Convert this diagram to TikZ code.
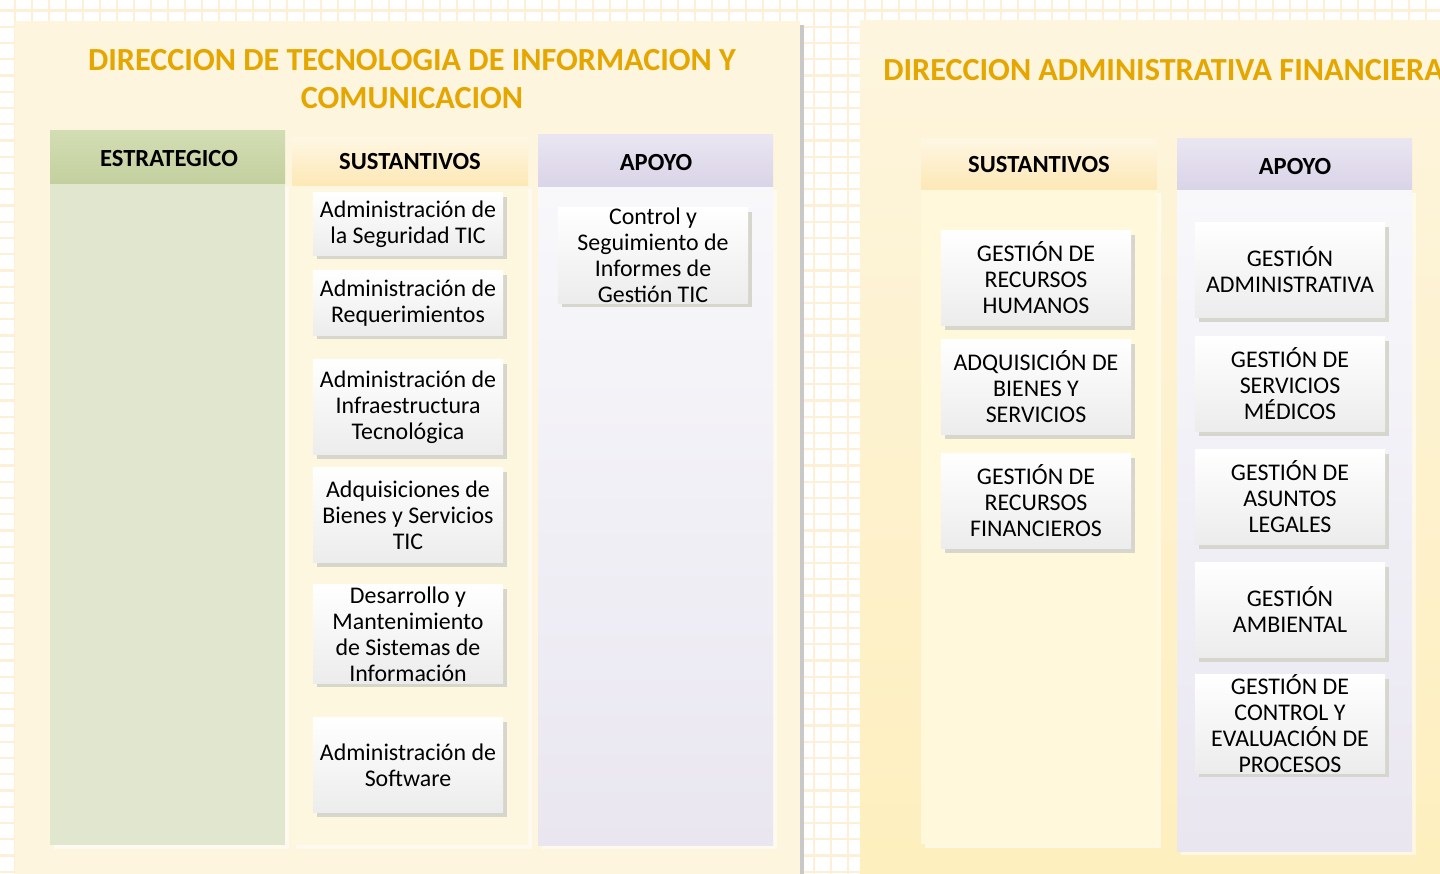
\documentclass[tikz,border=0pt]{standalone}
\usepackage{fontspec}
\setmainfont{Carlito}
\usetikzlibrary{shadows}

\definecolor{gridcol}{RGB}{254,240,214}
\definecolor{panelbg}{RGB}{253,245,222}
\definecolor{panelbot}{RGB}{254,239,190}
\definecolor{edgegray}{RGB}{200,200,200}
\definecolor{titlegold}{RGB}{230,166,0}
\definecolor{greentop}{RGB}{211,221,180}
\definecolor{greenbot}{RGB}{195,208,158}
\definecolor{greenbody}{RGB}{225,230,207}
\definecolor{sandtop}{RGB}{254,247,228}
\definecolor{sandbot}{RGB}{253,232,182}
\definecolor{sandbody}{RGB}{254,247,224}
\definecolor{sandbodyR}{RGB}{255,248,218}
\definecolor{lilatop}{RGB}{234,230,241}
\definecolor{lilabot}{RGB}{218,212,232}
\definecolor{lilabody}{RGB}{248,248,251}
\definecolor{lilabodybot}{RGB}{233,230,240}
\definecolor{boxbottom}{RGB}{236,236,236}
\definecolor{boxshadow}{RGB}{214,214,204}

\newcommand\titlefont{\fontsize{22.9}{27}\selectfont\bfseries}
\newcommand\headfont{\fontsize{17.5}{20}\selectfont\bfseries}
\newcommand\boxfont{\fontsize{17}{18.5}\selectfont}

\tikzset{
  gridline/.style={draw=gridcol, line width=1.6pt},
  colshadow/.style={fill=white, opacity=0.55},
  titletext/.style={text=titlegold, font=\titlefont, align=center, inner sep=0pt},
  colhead/.style={inner sep=0pt, text depth=0pt, font=\headfont, text=black},
  procbox/.style={minimum width=4.75cm, minimum height=2.375cm, inner sep=0pt,
    align=center, font=\boxfont, top color=white, bottom color=boxbottom,
    drop shadow={shadow xshift=3pt, shadow yshift=-3pt, fill=boxshadow, opacity=1}},
}

\begin{document}
\begin{tikzpicture}[x=0.025cm, y=-0.025cm]
    \useasboundingbox (0,0) rectangle (1440,874);
    \clip (0,0) rectangle (1440,874);
    \fill[white] (0,0) rectangle (1440,874);
    \foreach \gx in {15,32,...,1440} \draw[gridline] (\gx,0) -- (\gx,874);
    \foreach \gy in {10.5,26.75,...,874} \draw[gridline] (0,\gy) -- (1440,\gy);

    \coordinate (LP1) at (15,21);  \coordinate (LP2) at (800,874);
    \coordinate (RP1) at (860,21); \coordinate (RP2) at (1440,874);
    \fill[edgegray] (800,25) rectangle (804,874);
    \fill[panelbg] (LP1) rectangle (LP2);
    \shade[top color=panelbg, bottom color=panelbot] (RP1) rectangle (RP2);

    \node[titletext] (tituloTIC) at (412,79) {DIRECCION DE TECNOLOGIA DE INFORMACION Y\\COMUNICACION};
    \node[titletext, anchor=west, overlay] (tituloDAF) at (883,70) {DIRECCION ADMINISTRATIVA FINANCIERA};

    % columnas TIC
    \fill[colshadow] (54,187) rectangle (289,849);
    \fill[greenbody] (50,183) rectangle (285,845);
    \shade[top color=greentop, bottom color=greenbot] (50,130) rectangle (285,183);
    \node[colhead] (hEstrat) at (169,158) {ESTRATEGICO};

    \fill[colshadow] (296,189) rectangle (532,849);
    \fill[sandbody] (292,185) rectangle (528,845);
    \shade[top color=sandtop, bottom color=sandbot] (292,137) rectangle (528,185);
    \node[colhead] (hSustTIC) at (410,161) {SUSTANTIVOS};

    \fill[colshadow] (542,190) rectangle (777,849);
    \shade[top color=lilabody, bottom color=lilabodybot] (538,186) rectangle (773,845);
    \shade[top color=lilatop, bottom color=lilabot] (538,134) rectangle (773,186);
    \node[colhead] (hApoyoTIC) at (656,162) {APOYO};

    \node[procbox, minimum height=1.55cm] (seguridad) at (408,224) {Administración de\\la Seguridad TIC};
    \node[procbox, minimum height=1.6cm] (requerim) at (408,303) {Administración de\\Requerimientos};
    \node[procbox] (infraest) at (408,407) {Administración de\\Infraestructura\\Tecnológica};
    \node[procbox] (adquisTIC) at (408,515) {Adquisiciones de\\Bienes y Servicios\\TIC};
    \node[procbox, minimum height=2.45cm] (desarrollo) at (408,634) {Desarrollo y\\Mantenimiento\\de Sistemas de\\Información};
    \node[procbox] (software) at (408,765) {Administración de\\Software};

    \node[procbox] (control) at (653,255.5) {Control y\\Seguimiento de\\Informes de\\Gestión TIC};

    % columnas DAF
    \fill[colshadow] (925,193) rectangle (1161,848);
    \fill[sandbodyR] (921,189) rectangle (1157,844);
    \shade[top color=sandtop, bottom color=sandbot] (921,138) rectangle (1157,189);
    \node[colhead] (hSustDAF) at (1039,164) {SUSTANTIVOS};

    \fill[colshadow] (1181,193) rectangle (1416,855);
    \shade[top color=lilabody, bottom color=lilabodybot] (1177,189) rectangle (1412,851);
    \shade[top color=lilatop, bottom color=lilabot] (1177,138) rectangle (1412,189);
    \node[colhead] (hApoyoDAF) at (1295,166) {APOYO};

    \node[procbox] (rrhh) at (1036,278) {GESTIÓN DE\\RECURSOS\\HUMANOS};
    \node[procbox] (bienes) at (1036,387) {ADQUISICIÓN DE\\BIENES Y\\SERVICIOS};
    \node[procbox] (financ) at (1036,501) {GESTIÓN DE\\RECURSOS\\FINANCIEROS};

    \node[procbox] (administ) at (1290,270) {GESTIÓN\\ADMINISTRATIVA};
    \node[procbox] (medicos) at (1290,384) {GESTIÓN DE\\SERVICIOS\\MÉDICOS};
    \node[procbox] (legales) at (1290,497) {GESTIÓN DE\\ASUNTOS\\LEGALES};
    \node[procbox] (ambiental) at (1290,610) {GESTIÓN\\AMBIENTAL};
    \node[procbox] (procesos) at (1290,724) {GESTIÓN DE\\CONTROL Y\\EVALUACIÓN DE\\PROCESOS};
\end{tikzpicture}
\end{document}
